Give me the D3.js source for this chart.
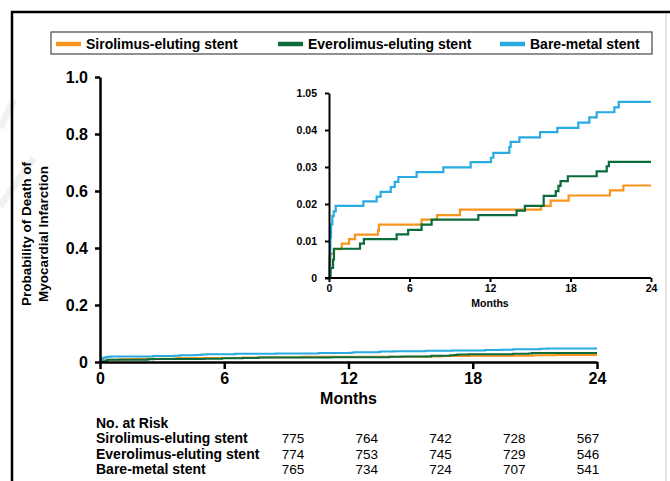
<!DOCTYPE html>
<html>
<head>
<meta charset="utf-8">
<script src="https://cdn.jsdelivr.net/npm/d3@7"></script>
<style>
  body { margin: 0; background: #fff; }
  svg { display: block; font-family: "Liberation Sans", Arial, sans-serif; }
</style>
</head>
<body>
<script>
// series (months, cumulative probability) - step change points
const sesT = [0, 0.05, 0.1, 0.37, 0.95, 1.5, 1.94, 3.65, 3.72, 6.9, 8.06, 9.76, 15.8, 16.52, 17.86, 20.94, 21.94, 24];
const sesP = [0, 0.003, 0.0065, 0.0078, 0.0093, 0.0105, 0.0117, 0.0128, 0.0144, 0.0158, 0.017, 0.0185, 0.0195, 0.0209, 0.0223, 0.0237, 0.025, 0.025];

const eesT = [0, 0.12, 0.3, 0.37, 2.31, 2.6, 5.04, 5.9, 6.9, 7.65, 11.13, 13.98, 14.6, 16.0, 16.9, 17.1, 17.26, 17.8, 19.95, 20.7, 20.86, 24];
const eesP = [0, 0.0027, 0.005, 0.0079, 0.0093, 0.0105, 0.0118, 0.013, 0.0144, 0.0158, 0.017, 0.0182, 0.0195, 0.0222, 0.0235, 0.0249, 0.0262, 0.0275, 0.0288, 0.0302, 0.0314, 0.0314];

const bmsT = [0, 0.05, 0.1, 0.15, 0.25, 0.35, 0.5, 2.56, 3.55, 3.85, 4.6, 4.9, 5.17, 6.53, 8.52, 10.56, 12.07, 12.25, 13.44, 13.54, 14.19, 15.73, 17.02, 18.58, 19.4, 19.95, 21.27, 21.6, 24];
const bmsP = [0, 0.006, 0.011, 0.0145, 0.0167, 0.018, 0.0195, 0.0207, 0.022, 0.0233, 0.0246, 0.026, 0.0273, 0.0286, 0.0299, 0.0313, 0.0325, 0.0338, 0.0354, 0.0368, 0.038, 0.0394, 0.0406, 0.042, 0.0434, 0.0448, 0.0461, 0.0476, 0.0476];

const groups = ["Sirolimus-eluting stent", "Everolimus-eluting stent", "Bare-metal stent"];
const colors = ["#f7941d", "#0b6b3a", "#29abe2"];

const xTicks = [0, 6, 12, 18, 24];
const yTicks = [0, 0.2, 0.4, 0.6, 0.8, 1.0];
const yTickLabels = ["0", "0.2", "0.4", "0.6", "0.8", "1.0"];
const insetYTicks = [0, 0.01, 0.02, 0.03, 0.04, 0.05];
const insetYTickLabels = ["0", "0.01", "0.02", "0.03", "0.04", "1.05"];

const riskSes = [775, 764, 742, 728, 567];
const riskEes = [774, 753, 745, 729, 546];
const riskBms = [765, 734, 724, 707, 541];

const series = [
  { name: groups[0], color: colors[0], pts: sesT.map((t, i) => [t, sesP[i]]) },
  { name: groups[1], color: colors[1], pts: eesT.map((t, i) => [t, eesP[i]]) },
  { name: groups[2], color: colors[2], pts: bmsT.map((t, i) => [t, bmsP[i]]) }
];
const risk = [riskSes, riskEes, riskBms];

const w = 670, h = 481;

const svg = d3.select("body").append("svg")
  .attr("width", w)
  .attr("height", h);

// faint watermark traces at the left
svg.append("path")
  .attr("d", "M0,128 L14,100 M0,206 L34,158")
  .attr("stroke", "#f1f1f1")
  .attr("stroke-width", 7)
  .attr("fill", "none");

// frame
svg.append("path")
  .attr("d", "M12,481 L12,12 L670,12")
  .attr("stroke", "#000")
  .attr("stroke-width", 2.5)
  .attr("fill", "none");
svg.append("line")
  .attr("x1", 666).attr("x2", 666).attr("y1", 13).attr("y2", h)
  .attr("stroke", "#c8c8c8")
  .attr("stroke-width", 1);

// legend
svg.append("rect")
  .attr("x", 51).attr("y", 32)
  .attr("width", 601).attr("height", 22)
  .attr("fill", "none")
  .attr("stroke", "#555")
  .attr("stroke-width", 1.3);

const legendX = d3.scalePoint().domain(groups).range([56, 500]);

const li = svg.append("g").selectAll("g")
  .data(series)
  .enter()
  .append("g")
  .attr("transform", d => "translate(" + legendX(d.name) + ",44)");
li.append("line")
  .attr("x1", 0).attr("x2", 25)
  .attr("stroke", d => d.color)
  .attr("stroke-width", 4.5);
li.append("text")
  .attr("x", 30).attr("y", 5)
  .attr("font-size", 14).attr("font-weight", "bold")
  .text(d => d.name);

// main plot
const x = d3.scaleLinear().domain([0, 24]).range([100, 597]);
const y = d3.scaleLinear().domain([0, 1]).range([362, 77]);

const line = d3.line()
  .x(d => x(d[0]))
  .y(d => y(d[1]))
  .curve(d3.curveStepAfter);

svg.append("g").selectAll("path")
  .data(series)
  .enter()
  .append("path")
  .attr("d", d => line(d.pts))
  .attr("fill", "none")
  .attr("stroke", d => d.color)
  .attr("stroke-width", 2);

const xAxis = svg.append("g")
  .attr("transform", "translate(0," + y(0) + ")")
  .call(d3.axisBottom(x).tickValues(xTicks).tickSize(7).tickSizeOuter(0).tickPadding(4));
const yAxis = svg.append("g")
  .attr("transform", "translate(" + x(0) + ",0)")
  .call(d3.axisLeft(y).tickValues(yTicks).tickSize(5).tickSizeOuter(0).tickPadding(7)
    .tickFormat((d, i) => yTickLabels[i]));

[xAxis, yAxis].forEach(a => {
  a.select(".domain").attr("stroke", "#000").attr("stroke-width", 2.5);
  a.selectAll(".tick line").attr("stroke", "#000").attr("stroke-width", 2.5);
  a.selectAll("text")
    .attr("font-family", "Liberation Sans, Arial, sans-serif")
    .attr("font-size", 16).attr("font-weight", "bold").attr("fill", "#000");
});

svg.append("text")
  .attr("x", x(12)).attr("y", 404)
  .attr("text-anchor", "middle")
  .attr("font-size", 16).attr("font-weight", "bold")
  .text("Months");

const yl = svg.append("text")
  .attr("transform", "translate(0,234) rotate(-90)")
  .attr("text-anchor", "middle")
  .attr("font-size", 13.5).attr("font-weight", "bold");
yl.append("tspan").attr("x", 0).attr("y", 31).text("Probability of Death of");
yl.append("tspan").attr("x", 0).attr("y", 48).text("Myocardial Infarction");

// inset plot
const ix = d3.scaleLinear().domain([0, 24]).range([329, 651]);
const iy = d3.scaleLinear().domain([0, 0.05]).range([278, 93]);

const iline = d3.line()
  .x(d => ix(d[0]))
  .y(d => iy(d[1]))
  .curve(d3.curveStepAfter);

svg.append("g").selectAll("path")
  .data(series)
  .enter()
  .append("path")
  .attr("d", d => iline(d.pts))
  .attr("fill", "none")
  .attr("stroke", d => d.color)
  .attr("stroke-width", 2.2);

const ixAxis = svg.append("g")
  .attr("transform", "translate(0," + iy(0) + ")")
  .call(d3.axisBottom(ix).tickValues(xTicks).tickSize(4).tickSizeOuter(0).tickPadding(3));
const iyAxis = svg.append("g")
  .attr("transform", "translate(" + ix(0) + ",0)")
  .call(d3.axisLeft(iy).tickValues(insetYTicks).tickSize(4).tickSizeOuter(0).tickPadding(8)
    .tickFormat((d, i) => insetYTickLabels[i]));

[ixAxis, iyAxis].forEach(a => {
  a.select(".domain").attr("stroke", "#000").attr("stroke-width", 2);
  a.selectAll(".tick line").attr("stroke", "#000").attr("stroke-width", 2);
  a.selectAll("text")
    .attr("font-family", "Liberation Sans, Arial, sans-serif")
    .attr("font-size", 10.5).attr("font-weight", "bold").attr("fill", "#000");
});
ixAxis.select(".domain").attr("d", "M" + (ix(0) - 4) + ",0H" + ix(24));

svg.append("text")
  .attr("x", ix(12)).attr("y", 307)
  .attr("text-anchor", "middle")
  .attr("font-size", 10.5).attr("font-weight", "bold")
  .text("Months");

// number at risk table
const colX = d3.scalePoint().domain(xTicks).range([293, 588]);
const rowY = d3.scalePoint().domain(groups).range([443, 474]);

svg.append("text")
  .attr("x", 96).attr("y", 427.5)
  .attr("font-size", 14).attr("font-weight", "bold")
  .text("No. at Risk");

const rows = svg.append("g").selectAll("g")
  .data(groups)
  .enter()
  .append("g")
  .attr("transform", d => "translate(0," + rowY(d) + ")");
rows.append("text")
  .attr("x", 96)
  .attr("font-size", 14).attr("font-weight", "bold")
  .text(d => d);
rows.selectAll(".n")
  .data((d, i) => risk[i])
  .enter()
  .append("text")
  .attr("class", "n")
  .attr("x", (d, j) => colX(xTicks[j]))
  .attr("text-anchor", "middle")
  .attr("font-size", 13.5)
  .text(d => d);
</script>
</body>
</html>
